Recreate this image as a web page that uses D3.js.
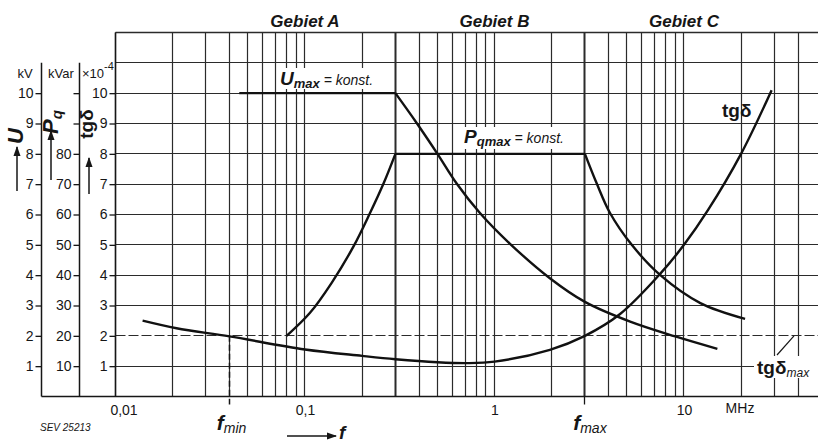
<!DOCTYPE html>
<html>
<head>
<meta charset="utf-8">
<script src="https://cdn.jsdelivr.net/npm/d3@7"></script>
<style>
  body { margin: 0; background: #fff; }
  svg { display: block; font-family: "Liberation Sans", Arial, sans-serif; }
</style>
</head>
<body>
<div id="chart"></div>
<script>
// frequency axis (MHz, log)
let freqTicks = [0.01, 0.1, 1, 10]
let freqLabels = ["0,01", "0,1", "1", "10"]
let regionNames = ["Gebiet A", "Gebiet B", "Gebiet C"]
let regionAt = [0.1, 1, 10]
let regionBounds = [0.3, 3]
let fMin = 0.04, fMax = 3

// left scales
let uTicks = [1, 2, 3, 4, 5, 6, 7, 8, 9, 10]          // kV
let pqTicks = [10, 20, 30, 40, 50, 60, 70, 80, 90, 100] // kVar
let pqLabelled = [10, 20, 30, 40, 50, 60, 70, 80]
let tgTicks = [1, 2, 3, 4, 5, 6, 7, 8, 9, 10]          // x10^-4
let tgMax = 2

// U (kV)
let uFreq = [0.045, 0.3, 0.39, 0.5, 0.63, 0.84, 1.2, 1.96, 3, 5.2, 9, 15]
let uVal  = [10, 10, 9, 8, 7.03, 6.04, 5.05, 3.9, 3.12, 2.47, 1.98, 1.57]

// Pq (kVar)
let pqFreq = [0.08, 0.106, 0.138, 0.18, 0.22, 0.26, 0.3, 3, 3.46, 4.07, 5.3, 7.5, 12.2, 21]
let pqVal  = [20, 27.5, 37.4, 49.4, 60.4, 70.3, 80, 80, 70.3, 60.5, 50, 40, 30.8, 25.6]

// tg delta (x10^-4)
let tgFreq = [0.0139, 0.021, 0.04, 0.1, 0.2, 0.3, 0.5, 0.72, 1, 1.96, 3, 4.6, 7.5, 10, 13.4, 20, 29]
let tgVal  = [2.5, 2.25, 1.98, 1.55, 1.34, 1.23, 1.13, 1.1, 1.15, 1.54, 2.0, 2.72, 4.05, 5.0, 6.15, 8.0, 10.1]

let width = 818, height = 443
let pLeft = 115.5, pTop = 32.5, pBottom = 396.5, pRight = 818
let axU = 41.5, axPq = 79.5

let svg = d3.select("#chart").append("svg")
  .attr("width", width).attr("height", height)

let x = d3.scaleLog().domain([0.01, 100]).range([pLeft, pLeft + 4 * 189.5])
let yU = d3.scaleLinear().domain([0, 12]).range([pBottom, pTop])
let yPq = d3.scaleLinear().domain([0, 120]).range([pBottom, pTop])
let yTg = d3.scaleLinear().domain([0, 12]).range([pBottom, pTop])
let crisp = v => Math.round(v - 0.5) + 0.5

const ink = "#161616", grid = "#2b2b2b"

// vertical grid
let vLines = []
for (let d = 0.01; d < 100; d *= 10)
  for (let k = 1; k <= 9; k++) {
    let v = +(k * d).toPrecision(3)
    if (v <= 40) vLines.push(v)
  }
svg.append("g").selectAll("line").data(vLines).enter().append("line")
  .attr("x1", d => crisp(x(d))).attr("x2", d => crisp(x(d)))
  .attr("y1", pTop).attr("y2", pBottom)
  .attr("stroke", grid)
  .attr("stroke-width", d => regionBounds.includes(d) ? 2 : 1.2)

// horizontal grid
let hLines = d3.range(1, 13)
svg.append("g").selectAll("line").data(hLines).enter().append("line")
  .attr("x1", pLeft).attr("x2", pRight)
  .attr("y1", d => crisp(yTg(d))).attr("y2", d => crisp(yTg(d)))
  .attr("stroke", grid)
  .attr("stroke-width", d => d == 12 ? 1.5 : 1.2)
  .attr("stroke-dasharray", d => d == tgMax ? "10,3" : null)

// fmin / fmax markers
svg.append("line")
  .attr("x1", crisp(x(fMin))).attr("x2", crisp(x(fMin)))
  .attr("y1", yTg(tgMax)).attr("y2", pBottom + 8)
  .attr("stroke", ink).attr("stroke-width", 1.5).attr("stroke-dasharray", "6,3")
svg.append("line")
  .attr("x1", crisp(x(fMax))).attr("x2", crisp(x(fMax)))
  .attr("y1", pBottom).attr("y2", pBottom + 8)
  .attr("stroke", ink).attr("stroke-width", 1.3)

// left axes
function leftAxis(scale, ticks, labels, xPos, topVal) {
  let g = svg.append("g").attr("transform", `translate(${xPos},0)`)
  g.call(d3.axisLeft(scale).tickValues(ticks).tickSize(6).tickPadding(2)
      .tickFormat(d => labels.includes(d) ? d : ""))
  g.select(".domain").remove()
  g.selectAll(".tick line").attr("stroke", ink).attr("stroke-width", 1.3)
  g.selectAll(".tick text").attr("fill", ink).style("font-size", "14px")
  g.append("line").attr("x1", 0).attr("x2", 0)
    .attr("y1", scale(topVal)).attr("y2", pBottom)
    .attr("stroke", ink).attr("stroke-width", 1.5)
}
leftAxis(yU, uTicks, uTicks, axU, 11)
leftAxis(yPq, pqTicks, pqLabelled, axPq, 110)
leftAxis(yTg, tgTicks, tgTicks, pLeft, 12)

// bottom axis line
svg.append("line").attr("x1", axU).attr("x2", pRight)
  .attr("y1", pBottom).attr("y2", pBottom)
  .attr("stroke", ink).attr("stroke-width", 1.6)

let xa = svg.append("g").attr("transform", `translate(0,${pBottom})`)
  .call(d3.axisBottom(x).tickValues(freqTicks).tickSize(0).tickPadding(9)
    .tickFormat((d, i) => freqLabels[i]))
xa.select(".domain").remove()
xa.selectAll(".tick text").attr("fill", ink).style("font-size", "14px")
  .attr("dx", (d, i) => i == 0 ? 8 : 0)
svg.append("text").attr("x", 740).attr("y", 413).attr("text-anchor", "middle")
  .attr("fill", ink).style("font-size", "14px").text("MHz")

// curves, drawn piecewise so the corners stay sharp
let line = d3.line().curve(d3.curveCatmullRom.alpha(0.5))
function curve(fs, vs, yScale, pieces) {
  pieces.forEach(([a, b]) => {
    let pts = fs.slice(a, b + 1).map((f, i) => [x(f), yScale(vs[a + i])])
    svg.append("path").attr("d", line(pts))
      .attr("fill", "none").attr("stroke", "#111").attr("stroke-width", 2.4)
      .attr("stroke-linejoin", "round")
  })
}

// label backgrounds
function bgRect(x0, y0, w, h) {
  svg.append("rect").attr("x", x0).attr("y", y0).attr("width", w).attr("height", h).attr("fill", "#fff")
}
bgRect(278, 68, 104, 21)
bgRect(462, 127, 113, 22)
bgRect(754, 356, 64, 22)

curve(uFreq, uVal, yU, [[0, 1], [1, uFreq.length - 1]])
curve(pqFreq, pqVal, yPq, [[0, 6], [6, 7], [7, pqFreq.length - 1]])
curve(tgFreq, tgVal, yTg, [[0, tgFreq.length - 1]])

// region titles
svg.append("g").selectAll("text").data(regionNames).enter().append("text")
  .attr("x", (d, i) => x(regionAt[i])).attr("y", 27)
  .attr("text-anchor", "middle").attr("fill", ink)
  .style("font-size", "17px").style("font-weight", "bold").style("font-style", "italic")
  .text(d => d)

// Umax = konst.
let t1 = svg.append("text").attr("x", 280).attr("y", 85).attr("fill", ink).style("font-style", "italic")
t1.append("tspan").style("font-size", "19px").style("font-weight", "bold").text("U")
t1.append("tspan").attr("dy", 3).style("font-size", "13px").style("font-weight", "bold").text("max")
t1.append("tspan").attr("dy", -3).style("font-size", "14px").text(" = konst.")

// Pqmax = konst.
let t2 = svg.append("text").attr("x", 464).attr("y", 143).attr("fill", ink).style("font-style", "italic")
t2.append("tspan").style("font-size", "19px").style("font-weight", "bold").text("P")
t2.append("tspan").attr("dy", 3).style("font-size", "13px").style("font-weight", "bold").text("qmax")
t2.append("tspan").attr("dy", -3).style("font-size", "14px").text(" = konst.")

// tg delta near curve
svg.append("text").attr("x", 722).attr("y", 117).attr("fill", ink)
  .style("font-size", "19px").style("font-weight", "bold").text("tgδ")

// tg delta max
svg.append("line").attr("x1", 777).attr("y1", 355).attr("x2", 794).attr("y2", yTg(tgMax))
  .attr("stroke", ink).attr("stroke-width", 1.2)
let t3 = svg.append("text").attr("x", 757).attr("y", 374).attr("fill", ink)
t3.append("tspan").style("font-size", "19px").style("font-weight", "bold").text("tgδ")
t3.append("tspan").attr("dy", 3).style("font-size", "12px").style("font-style", "italic").text("max")

// unit labels
function txt(xp, yp, s, size) {
  return svg.append("text").attr("x", xp).attr("y", yp).attr("fill", ink)
    .attr("text-anchor", "middle").style("font-size", size + "px").text(s)
}
txt(25, 78, "kV", 13)
txt(61, 78, "kVar", 13)
let t4 = svg.append("text").attr("x", 82).attr("y", 78).attr("fill", ink).style("font-size", "13px")
t4.append("tspan").text("×10")
t4.append("tspan").attr("dy", -8).style("font-size", "11px").text("-4")

// rotated axis titles with arrows
function vTitle(xp, yp, parts) {
  let t = svg.append("text").attr("transform", `translate(${xp},${yp}) rotate(-90)`)
    .attr("text-anchor", "middle").attr("fill", ink)
  parts.forEach(p => {
    let s = t.append("tspan").text(p.s).style("font-size", p.size + "px")
      .style("font-weight", "bold").style("font-style", p.it ? "italic" : "normal")
    if (p.dy) s.attr("dy", p.dy)
  })
}
vTitle(23, 136, [{ s: "U", size: 22, it: true }])
vTitle(58, 122, [{ s: "P", size: 22, it: true }, { s: "q", size: 15, it: true, dy: 4 }])
vTitle(93, 124, [{ s: "tgδ", size: 19 }])

svg.append("defs").append("marker").attr("id", "ah")
  .attr("viewBox", "0 0 10 10").attr("refX", 9).attr("refY", 5)
  .attr("markerWidth", 7).attr("markerHeight", 7).attr("orient", "auto")
  .append("path").attr("d", "M0,1.5L10,5L0,8.5Z").attr("fill", ink)

function arrow(x1, y1, x2, y2) {
  svg.append("line").attr("x1", x1).attr("y1", y1).attr("x2", x2).attr("y2", y2)
    .attr("stroke", ink).attr("stroke-width", 1.5).attr("marker-end", "url(#ah)")
}
arrow(17, 191, 17, 147)
arrow(51, 180, 51, 131)
arrow(89, 194, 89, 158)
arrow(287, 436, 336, 436)

// f labels
svg.append("text").attr("x", 339).attr("y", 439).attr("fill", ink)
  .style("font-size", "19px").style("font-weight", "bold").style("font-style", "italic").text("f")
function fLabel(xp, sub) {
  let t = svg.append("text").attr("x", xp).attr("y", 430).attr("fill", ink)
    .attr("text-anchor", "middle").style("font-style", "italic")
  t.append("tspan").style("font-size", "21px").style("font-weight", "bold").text("f")
  t.append("tspan").attr("dy", 3).style("font-size", "14px").text(sub)
}
fLabel(x(fMin) + 2, "min")
fLabel(x(fMax) + 5, "max")

svg.append("text").attr("x", 40).attr("y", 431).attr("fill", ink)
  .style("font-size", "10px").style("font-style", "italic").text("SEV 25213")
</script>
</body>
</html>
